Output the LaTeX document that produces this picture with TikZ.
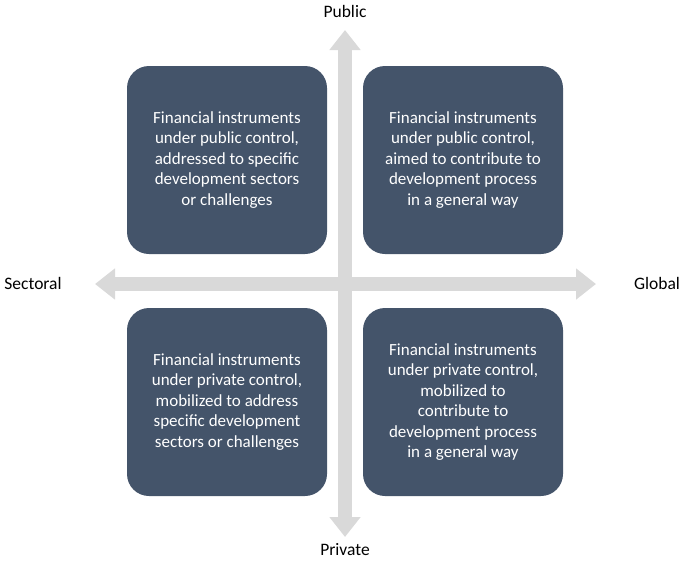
\documentclass[tikz,border=0pt]{standalone}
\usepackage{fontspec}
\setmainfont{Carlito}
\usetikzlibrary{arrows.meta}
\tikzset{
  quad/.style={fill=boxblue, rounded corners=22pt, minimum width=200pt, minimum height=188pt, text=white, align=center, font=\fontsize{17}{20.5}\selectfont},
  axis/.style={draw=axisgray, line width=14pt, {Triangle[width=30pt,length=20pt]}-{Triangle[width=30pt,length=20pt]}},
  lab/.style={font=\fontsize{17.5}{20}\selectfont, text=black}
}
\definecolor{boxblue}{HTML}{44546A}
\definecolor{axisgray}{HTML}{D9D9D9}
\begin{document}
\begin{tikzpicture}[x=1pt,y=-1pt]
\useasboundingbox (0,0) rectangle (685,560);
\coordinate (top) at (345,30);
\coordinate (bot) at (345,537);
\coordinate (lft) at (95,284);
\coordinate (rgt) at (596,284);
\draw[axis] (top) -- (bot);
\draw[axis] (lft) -- (rgt);
\node[quad] (tl) at (227,160) {Financial instruments\\under public control,\\addressed to specific\\development sectors\\or challenges};
\node[quad] (tr) at (463,160) {Financial instruments\\under public control,\\aimed to contribute to\\development process\\in a general way};
\node[quad] (bl) at (227,402) {Financial instruments\\under private control,\\mobilized to address\\specific development\\sectors or challenges};
\node[quad] (br) at (463,402) {Financial instruments\\under private control,\\mobilized to\\contribute to\\development process\\in a general way};
\node[lab] (pub) at (345,11) {Public};
\node[lab] (pri) at (345,550) {Private};
\node[lab] (sec) at (33,283) {Sectoral};
\node[lab] (glo) at (657,283) {Global};
\end{tikzpicture}
\end{document}
